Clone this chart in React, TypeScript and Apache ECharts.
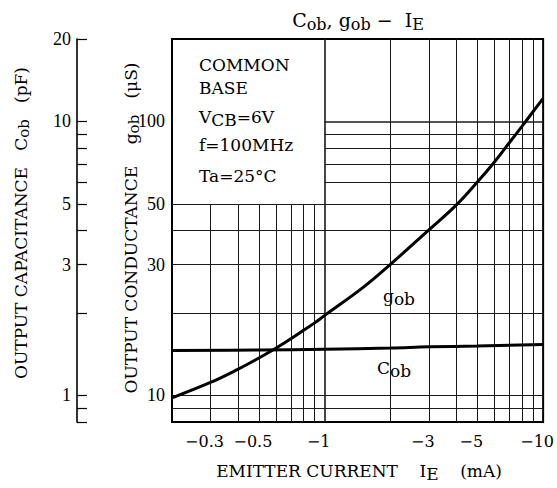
import React, { useEffect, useRef } from "react";
import * as echarts from "echarts";

// ---- data ----
const ieRange = [0.2, 10]; // emitter current magnitude, mA (shown as negative)
const cobRange = [0.8, 20]; // pF
const gobRange = [8, 200]; // µS

const xLabelVals = [0.3, 0.5, 1, 3, 5, 10];
const cobTickVals = [0.8, 0.9, 1, 2, 3, 4, 5, 6, 7, 8, 9, 10, 20];
const cobLabelVals = [1, 3, 5, 10, 20];
const gobLabelVals = [10, 30, 50, 100];

// grid lines of the chart paper
const gridXPartial = [0.3, 0.4, 0.5, 0.6, 0.7, 0.8, 0.9];
const gridXFull = [1, 2, 3, 4, 5, 6, 7, 8, 9];
const gridYFull = [9, 10, 20, 30, 40, 50];
const gridYPartial = [60, 70, 80, 90, 100];
const boxCorner = [1, 50]; // lower right corner of the blank conditions box (IE, gob)

const gobIe = [0.2, 0.3, 0.4, 0.5, 0.6, 0.7, 0.8, 0.9, 1, 1.5, 2, 3, 4, 5, 6, 7, 8, 10];
const gobVals = [9.8, 11.15, 12.45, 13.7, 14.9, 16.1, 17.3, 18.4, 19.6, 24.8, 30.1, 40.2, 49.5, 60.1, 71.3, 83.6, 96, 121.5];

const cobIe = [0.2, 0.5, 1, 2, 3, 5, 10];
const cobVals = [1.46, 1.465, 1.475, 1.49, 1.505, 1.515, 1.535];

const lg = (v: number) => Math.log10(v);
const fmt = (v: number) => String(Number(Math.pow(10, v).toPrecision(3)));

const FONT = "DejaVu Serif";
const NUMFONT = "Liberation Serif";

function richFor(size: number, subSize: number, shift: number) {
  return {
    n: { fontFamily: FONT, fontSize: size, lineHeight: size + 4, fill: "#000" },
    s: {
      fontFamily: FONT,
      fontSize: subSize,
      lineHeight: size + 4,
      padding: [shift * 2, 0, 0, 0],
      fill: "#000",
    },
  };
}

export default function App() {
  const ref = useRef<HTMLDivElement>(null);
  useEffect(() => {
    const chart = echarts.init(ref.current!, null, { renderer: "svg" });

    const seg = (a: number[], b: number[], width: number) => ({
      coords: [
        [lg(a[0]), lg(a[1])],
        [lg(b[0]), lg(b[1])],
      ],
      lineStyle: { width, color: "#1a1a1a", opacity: 1, type: "solid" },
    });
    const gridLines: any[] = [];
    gridXPartial.forEach((x) => gridLines.push(seg([x, gobRange[0]], [x, boxCorner[1]], 1)));
    gridXFull.forEach((x) => gridLines.push(seg([x, gobRange[0]], [x, gobRange[1]], x === 1 ? 1.6 : 1)));
    gridYFull.forEach((y) => gridLines.push(seg([ieRange[0], y], [ieRange[1], y], 1)));
    gridYPartial.forEach((y) => gridLines.push(seg([boxCorner[0], y], [ieRange[1], y], y === 100 ? 1.6 : 1)));

    const text = (x: number, y: number, t: string, size: number, subSize: number, shift: number, align = "left", rotation = 0) => ({
      type: "text",
      x,
      y,
      rotation,
      silent: true,
      style: {
        text: t,
        align,
        verticalAlign: "middle",
        fill: "#000",
        fontFamily: FONT,
        fontSize: size,
        rich: richFor(size, subSize, shift),
      },
    });

    chart.setOption({
      animation: false,
      backgroundColor: "#fff",
      grid: {
        left: 172,
        right: 11,
        top: 39,
        bottom: 66,
        show: true,
        borderColor: "#000",
        borderWidth: 2,
        backgroundColor: "transparent",
      },
      xAxis: {
        type: "value",
        min: lg(ieRange[0]),
        max: lg(ieRange[1]),
        axisLine: { show: false, onZero: false },
        axisTick: { show: false },
        splitLine: { show: false },
        axisLabel: {
          customValues: xLabelVals.map(lg),
          formatter: (v: number) => "\u2212" + fmt(v),
          fontFamily: FONT,
          fontSize: 16,
          color: "#000",
          margin: 11,
          padding: [0, 12, 0, 0],
        },
      },
      yAxis: [
        {
          type: "value",
          position: "left",
          offset: 95,
          min: lg(cobRange[0]),
          max: lg(cobRange[1]),
          axisLine: { show: true, onZero: false, lineStyle: { color: "#000", width: 1.6 } },
          axisTick: {
            show: true,
            inside: true,
            length: 10,
            customValues: cobTickVals.map(lg),
            lineStyle: { color: "#000", width: 1.2 },
          },
          splitLine: { show: false },
          axisLabel: {
            customValues: cobLabelVals.map(lg),
            formatter: (v: number) => fmt(v),
            fontFamily: NUMFONT,
            fontSize: 18,
            color: "#000",
            margin: 6,
          },
        },
        {
          type: "value",
          position: "left",
          offset: 0,
          min: lg(gobRange[0]),
          max: lg(gobRange[1]),
          axisLine: { show: false, onZero: false },
          axisTick: { show: false },
          splitLine: { show: false },
          axisLabel: {
            customValues: gobLabelVals.map(lg),
            formatter: (v: number) => fmt(v),
            fontFamily: NUMFONT,
            fontSize: 18,
            color: "#000",
            margin: 7,
          },
        },
      ],
      series: [
        {
          name: "grid",
          type: "lines",
          coordinateSystem: "cartesian2d",
          xAxisIndex: 0,
          yAxisIndex: 1,
          z: 1,
          silent: true,
          polyline: false,
          symbol: "none",
          data: gridLines,
        },
        {
          name: "gob",
          type: "line",
          xAxisIndex: 0,
          yAxisIndex: 1,
          z: 5,
          smooth: 0.4,
          symbol: "none",
          lineStyle: { color: "#000", width: 3 },
          data: gobIe.map((x, i) => [lg(x), lg(gobVals[i])]),
        },
        {
          name: "Cob",
          type: "line",
          xAxisIndex: 0,
          yAxisIndex: 0,
          z: 5,
          smooth: 0.4,
          symbol: "none",
          lineStyle: { color: "#000", width: 3 },
          data: cobIe.map((x, i) => [lg(x), lg(cobVals[i])]),
        },
      ],
      graphic: [
        text(358, 20, "{n|C}{s|ob}{n|, g}{s|ob}{n| \u2212  I}{s|E}", 19, 16, 4, "center"),
        text(359, 471, "{n|EMITTER CURRENT    I}{s|E}{n|    (mA)}", 17, 17, 3, "center"),
        text(21, 223, "{n|OUTPUT CAPACITANCE   C}{s|ob}{n|   (pF)}", 17, 15, 3, "center", Math.PI / 2),
        text(131, 228, "{n|OUTPUT CONDUCTANCE    g}{s|ob}{n|   (\u03bcS)}", 17, 15, 3, "center", Math.PI / 2),
        text(199, 65, "{n|COMMON}", 17, 17, 0),
        text(199, 87.5, "{n|BASE}", 17, 17, 0),
        text(199, 116.5, "{n|V}{s|CB}{n|=6V}", 17, 17, 3.5),
        text(199, 145, "{n|f=100MHz}", 17, 17, 0),
        text(199, 175.5, "{n|Ta=25\u00b0C}", 17, 17, 0),
        text(383, 296, "{n|g}{s|ob}", 17, 17, 3),
        text(377, 367.5, "{n|C}{s|ob}", 17, 17, 3.5),
      ],
    });
    return () => chart.dispose();
  }, []);
  return (
    <div
      ref={ref}
      style={{ position: "fixed", left: 0, top: 0, width: 557, height: 488, background: "#fff" }}
    />
  );
}
